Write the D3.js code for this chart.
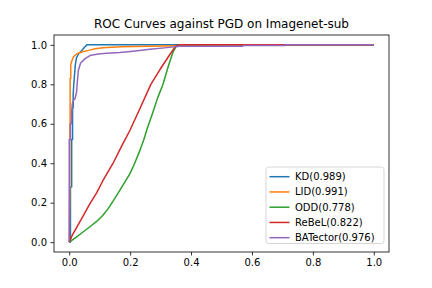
<!DOCTYPE html>
<html>
<head>
<meta charset="utf-8">
<script src="https://cdn.jsdelivr.net/npm/d3@7"></script>
<style>
  body { margin: 0; background: #fff; }
  svg { display: block; font-family: "DejaVu Sans", sans-serif; }
</style>
</head>
<body>
<script>
const seriesNames = ["KD(0.989)", "LID(0.991)", "ODD(0.778)", "ReBeL(0.822)", "BATector(0.976)"];
const seriesColors = ["#1f77b4", "#ff7f0e", "#2ca02c", "#d62728", "#9467bd"];
const ticks = [0, 0.2, 0.4, 0.6, 0.8, 1.0];

// [fpr, tpr]
const kd = [[0,0],[0.004,0],[0.004,0.28],[0.008,0.28],[0.008,0.52],[0.011,0.52],[0.011,0.68],
    [0.013,0.68],[0.013,0.75],[0.015,0.80],[0.018,0.86],[0.02,0.9],[0.024,0.935],[0.031,0.955],
    [0.042,0.973],[0.05,0.988],[0.058,1.0],[1,1]];
const lid = [[0,0],[0.002,0.3],[0.002,0.6],[0.003,0.6],[0.003,0.83],[0.005,0.83],[0.005,0.9],
    [0.009,0.92],[0.014,0.94],[0.025,0.955],[0.042,0.964],[0.064,0.972],[0.085,0.98],[0.11,0.985],
    [0.17,0.99],[0.35,0.995],[0.5,1],[1,1]];
const odd = [[0,0],[0.02,0.022],[0.04,0.045],[0.068,0.078],[0.09,0.105],[0.11,0.135],[0.128,0.17],
    [0.145,0.21],[0.166,0.262],[0.185,0.31],[0.199,0.346],[0.215,0.4],[0.232,0.465],[0.245,0.52],
    [0.257,0.58],[0.275,0.66],[0.29,0.73],[0.308,0.8],[0.325,0.89],[0.34,0.96],[0.35,0.99],
    [0.36,1.0],[1,1]];
const rebel = [[0,0],[0.01,0.035],[0.03,0.09],[0.05,0.145],[0.068,0.195],[0.09,0.25],[0.11,0.31],
    [0.144,0.40],[0.17,0.48],[0.199,0.566],[0.23,0.67],[0.268,0.8],[0.3,0.88],[0.33,0.95],
    [0.35,0.995],[0.36,1.0],[1,1]];
const batector = [[0,0],[0,0.52],[0.004,0.52],[0.004,0.6],[0.007,0.6],[0.008,0.66],[0.01,0.7],
    [0.014,0.72],[0.019,0.727],[0.024,0.76],[0.027,0.82],[0.03,0.87],[0.037,0.907],[0.051,0.929],
    [0.068,0.946],[0.095,0.954],[0.123,0.958],[0.167,0.961],[0.21,0.968],[0.265,0.978],
    [0.32,0.986],[0.363,0.993],[0.57,0.993],[0.57,0.997],[0.71,0.997],[0.71,1],[1,1]];

const allSeries = [kd, lid, odd, rebel, batector];

document.addEventListener("DOMContentLoaded", function() {
    const width = 432, height = 288;
    const left = 54, right = 389, top = 35, bottom = 252;

    const svg = d3.select("body").append("svg")
        .attr("width", width)
        .attr("height", height);

    const x = d3.scaleLinear().domain([-0.05, 1.05]).range([left, right]);
    const y = d3.scaleLinear().domain([-0.05, 1.05]).range([bottom, top]);

    const line = d3.line()
        .x(d => x(d[0]))
        .y(d => y(d[1]));

    svg.selectAll(".roc")
        .data(allSeries)
        .join("path")
        .classed("roc", true)
        .attr("d", line)
        .attr("fill", "none")
        .attr("stroke", (d, i) => seriesColors[i])
        .attr("stroke-width", 1.5)
        .attr("stroke-linejoin", "round");

    // axes
    const fmt = d3.format(".1f");
    const xAxis = svg.append("g")
        .attr("transform", `translate(0,${bottom})`)
        .call(d3.axisBottom(x).tickValues(ticks).tickFormat(fmt).tickSize(3.5).tickPadding(3.5));
    const yAxis = svg.append("g")
        .attr("transform", `translate(${left},0)`)
        .call(d3.axisLeft(y).tickValues(ticks).tickFormat(fmt).tickSize(3.5).tickPadding(3.5));

    [xAxis, yAxis].forEach(g => {
        g.select(".domain").remove();
        g.selectAll(".tick line").attr("stroke", "#000").attr("stroke-width", 0.8);
        g.selectAll(".tick text")
            .attr("fill", "#000")
            .style("font-size", "10px")
            .style("font-family", "'DejaVu Sans', sans-serif");
    });

    // frame
    svg.append("rect")
        .attr("x", left)
        .attr("y", top)
        .attr("width", right - left)
        .attr("height", bottom - top)
        .attr("fill", "none")
        .attr("stroke", "#000")
        .attr("stroke-width", 0.8);

    // title
    svg.append("text")
        .attr("x", (left + right) / 2)
        .attr("y", top - 7)
        .attr("text-anchor", "middle")
        .style("font-size", "12px")
        .text("ROC Curves against PGD on Imagenet-sub");

    // legend
    const legend = svg.append("g");
    legend.append("rect")
        .attr("x", 266)
        .attr("y", 167)
        .attr("width", 118)
        .attr("height", 76.5)
        .attr("rx", 2.5)
        .attr("fill", "#fff")
        .attr("fill-opacity", 0.8)
        .attr("stroke", "#cccccc")
        .attr("stroke-width", 0.8);

    const rows = legend.selectAll(".entry")
        .data(seriesNames)
        .join("g")
        .classed("entry", true)
        .attr("transform", (d, i) => `translate(0,${176.7 + i * 15.25})`);

    rows.append("line")
        .attr("x1", 269.5)
        .attr("x2", 289.5)
        .attr("stroke", (d, i) => seriesColors[i])
        .attr("stroke-width", 1.5);

    rows.append("text")
        .attr("x", 295)
        .attr("dy", "0.35em")
        .style("font-size", "10px")
        .text(d => d);
});
</script>
</body>
</html>
